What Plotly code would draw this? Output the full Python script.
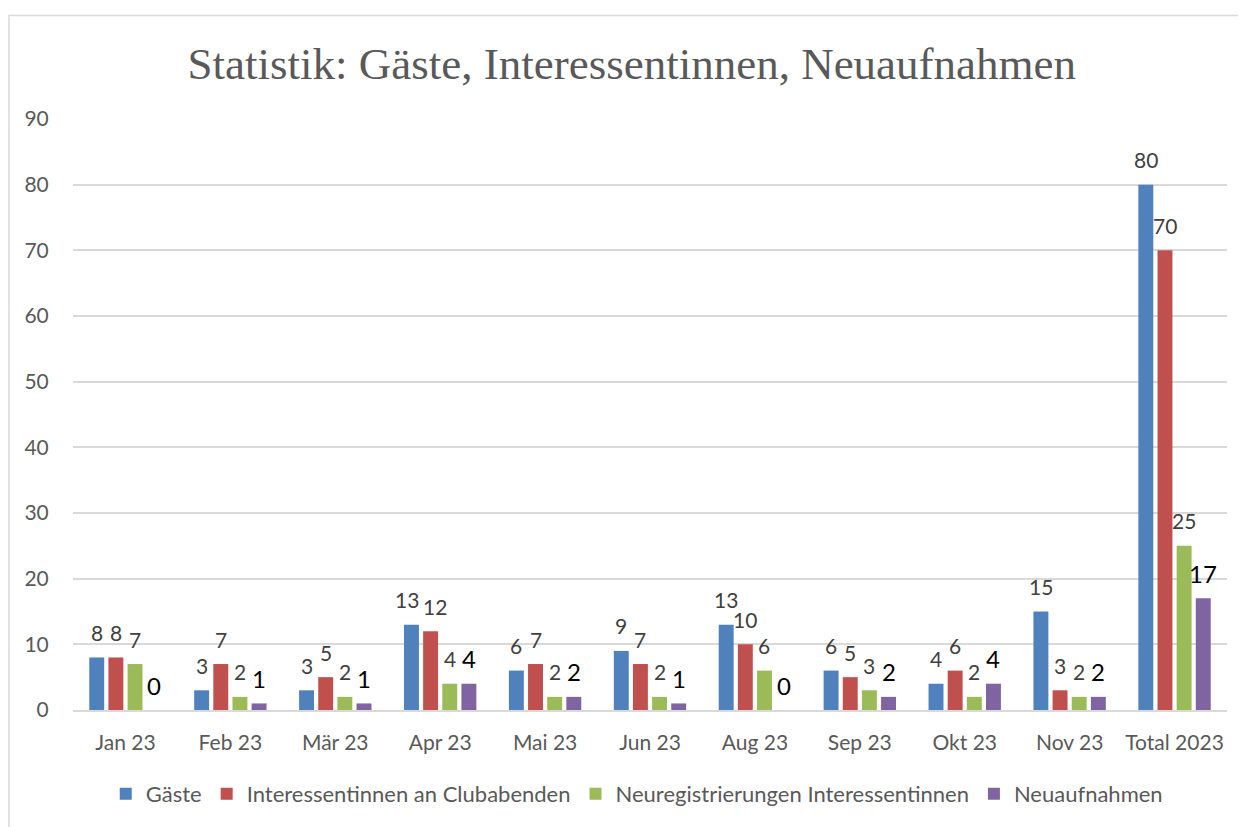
import plotly.graph_objects as go

categories = ["Jan 23", "Feb 23", "Mär 23", "Apr 23", "Mai 23", "Jun 23", "Aug 23", "Sep 23", "Okt 23", "Nov 23", "Total 2023"]
gaeste = [8, 3, 3, 13, 6, 9, 13, 6, 4, 15, 80]
interessentinnen = [8, 7, 5, 12, 7, 7, 10, 5, 6, 3, 70]
neuregistrierungen = [7, 2, 2, 4, 2, 2, 6, 3, 2, 2, 25]
neuaufnahmen = [0, 1, 1, 4, 2, 1, 0, 2, 4, 2, 17]

series = [
    ("Gäste", gaeste, "#4F81BD", "#404040", 21),
    ("Interessentinnen an Clubabenden", interessentinnen, "#C0504D", "#404040", 21),
    ("Neuregistrierungen Interessentinnen", neuregistrierungen, "#9BBB59", "#404040", 21),
    ("Neuaufnahmen", neuaufnahmen, "#8064A2", "#000000", 24),
]

FONT = "Lato, Open Sans, sans-serif"
OFF = 8  # page body margin

W, H = 1246 - OFF, 827 - OFF
ml, mt = 73 - OFF, 119 - OFF
plot_bottom = 712.7 - OFF
plot_right = 1227.5 - OFF
mb = H - plot_bottom
mr = W - plot_right
pw, ph = W - ml - mr, H - mt - mb

BARGAP, BARGROUPGAP = 0.27, 0.22
n_cat = len(categories)
slot_px = pw / n_cat * (1 - BARGAP) / len(series)
px_per_unit = ph / 90

# simple label collision avoidance between neighbouring bars (like Excel does)
nudge = [[0.0] * n_cat for _ in series]
for j in range(n_cat):
    for i in range(len(series) - 1):
        a, b = series[i][1][j], series[i + 1][1][j]
        if a >= 10 and b >= 10 and abs(a - b) * px_per_unit < 15:
            nudge[i][j] -= 4
            nudge[i + 1][j] += 4

fig = go.Figure()
annotations = []
for i, (name, vals, color, tcolor, tsize) in enumerate(series):
    fig.add_trace(go.Bar(
        name=name, x=categories, y=vals,
        marker=dict(color=color, line=dict(width=0)),
    ))
    for j, (c, v) in enumerate(zip(categories, vals)):
        annotations.append(dict(
            x=c, y=v, xref="x", yref="y", text=str(v), showarrow=False,
            xshift=(i - (len(series) - 1) / 2) * slot_px + nudge[i][j], yshift=25,
            xanchor="center", yanchor="middle",
            font=dict(color=tcolor, size=tsize, family=FONT),
        ))

fig.update_layout(
    width=W, height=H,
    margin=dict(l=ml, r=mr, t=mt, b=mb, pad=0),
    paper_bgcolor="white", plot_bgcolor="white",
    barmode="group", bargap=BARGAP, bargroupgap=BARGROUPGAP,
    title=dict(text="Statistik: Gäste, Interessentinnen, Neuaufnahmen",
               x=(632 - OFF - ml) / pw, xref="paper", xanchor="center",
               y=1 - (63 - OFF) / H, yanchor="middle",
               font=dict(family="Liberation Serif, serif", size=45, color="#595959")),
    font=dict(family=FONT, size=21, color="#595959"),
    legend=dict(orientation="h", x=(637 - OFF - ml) / pw, xanchor="center",
                y=-(797 - 712.7) / ph, yanchor="middle",
                font=dict(size=22, color="#595959"), itemwidth=30, traceorder="normal"),
    xaxis=dict(showgrid=False, showline=True, linecolor="#d9d9d9", linewidth=1.5,
               ticks="outside", ticklen=13, tickcolor="rgba(0,0,0,0)",
               tickfont=dict(size=21, color="#595959")),
    yaxis=dict(range=[0, 90], dtick=10, showgrid=True, gridcolor="#d9d9d9", gridwidth=1.5,
               zeroline=False, showline=False, ticks="outside", ticklen=19,
               tickcolor="rgba(0,0,0,0)",
               tickfont=dict(size=21, color="#595959")),
    annotations=annotations,
    shapes=[dict(type="rect", xref="paper", yref="paper",
                 x0=(9 - OFF - ml) / pw, x1=(W + 40 - ml) / pw,
                 y0=-(H + 40 - mt - ph) / ph, y1=1 + (mt - (15 - OFF)) / ph,
                 line=dict(color="#d9d9d9", width=1.5), fillcolor="rgba(0,0,0,0)", layer="below")],
)

fig.write_html("out.html")
